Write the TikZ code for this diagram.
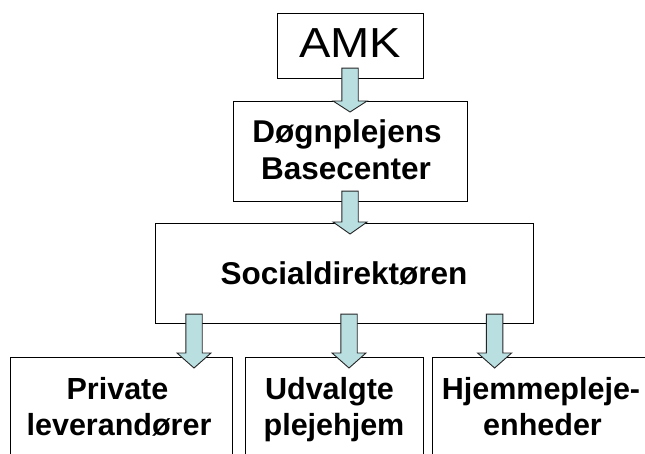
\documentclass[tikz,border=0pt]{standalone}
\usepackage{fontspec}
\setmainfont{Liberation Sans}
\usetikzlibrary{calc}

\definecolor{flowfill}{HTML}{B9DFE1}

\tikzset{
  orgbox/.style={draw=black, line width=1.1pt, fill=white, rectangle, inner sep=0pt},
  headtext/.style={font=\fontsize{42}{48}\selectfont, inner sep=0pt, anchor=base},
  unittext/.style={font=\fontsize{31.5}{37}\selectfont\bfseries, inner sep=0pt, anchor=base},
  leaftext/.style={font=\fontsize{30.5}{36}\selectfont\bfseries, inner sep=0pt, anchor=base},
  flow/.style={draw=black!85, line width=0.9pt, fill=flowfill, line join=miter}
}

% block arrow pointing down: #1 top of shaft, #2 tip, #3 head length
\newcommand{\feedarrow}[3]{%
  \filldraw[flow] ($(#1)+(-8.2,0)$) -- ($(#2)+(-8.2,-#3)$) -- ($(#2)+(-17,-#3)$)
    -- (#2) -- ($(#2)+(17,-#3)$) -- ($(#2)+(8.2,-#3)$) -- ($(#1)+(8.2,0)$) -- cycle;}

\begin{document}
\begin{tikzpicture}[x=1pt, y=-1pt]
  \useasboundingbox (0,0) rectangle (645,454);

  % boxes
  \node[orgbox, minimum width=146pt, minimum height=65pt, anchor=north west] (amk) at (277,13) {};
  \node[orgbox, minimum width=234pt, minimum height=100pt, anchor=north west] (dbc) at (233,101) {};
  \node[orgbox, minimum width=378pt, minimum height=100pt, anchor=north west] (soc) at (155,223) {};
  \node[orgbox, minimum width=222pt, minimum height=110pt, anchor=north west] (pl) at (10,357) {};
  \node[orgbox, minimum width=178pt, minimum height=110pt, anchor=north west] (up) at (245,357) {};
  \node[orgbox, minimum width=220pt, minimum height=110pt, anchor=north west] (hj) at (432,357) {};

  % labels
  \node[headtext] (amkt) at (350,58) {\scalebox{1.12}[1]{AMK}};
  \node[unittext] (dbct1) at (347,143) {Døgnplejens};
  \node[unittext] (dbct2) at (346,180) {Basecenter};
  \node[unittext] (soct) at (344,285) {Socialdirektøren};
  \node[leaftext] (plt1) at (117.5,399) {Private};
  \node[leaftext] (plt2) at (119,435) {leverandører};
  \node[leaftext] (upt1) at (329.5,399) {Udvalgte};
  \node[leaftext] (upt2) at (334,435) {plejehjem};
  \node[leaftext] (hjt1) at (541,399) {Hjemmepleje-};
  \node[leaftext] (hjt2) at (542.5,435) {enheder};

  % arrow anchor points
  \coordinate (a1s) at ($(amk.south)+(-0.5,-11)$);
  \coordinate (a1e) at ($(a1s |- dbc.north)+(0,11)$);
  \coordinate (a2s) at ($(dbc.south)+(-0.5,-11)$);
  \coordinate (a2e) at ($(a2s |- soc.north)+(0,11)$);
  \coordinate (b1s) at ($(soc.south west)+(39,-10)$);
  \coordinate (b1e) at ($(b1s |- pl.north)+(0,11)$);
  \coordinate (b2s) at ($(soc.south west)+(194,-10)$);
  \coordinate (b2e) at ($(b2s |- up.north)+(0,11)$);
  \coordinate (b3s) at ($(soc.south east)+(-39.5,-10)$);
  \coordinate (b3e) at ($(b3s |- hj.north)+(0,11)$);

  % arrows
  \feedarrow{a1s}{a1e}{11}
  \feedarrow{a2s}{a2e}{12}
  \feedarrow{b1s}{b1e}{15}
  \feedarrow{b2s}{b2e}{15}
  \feedarrow{b3s}{b3e}{15}
\end{tikzpicture}
\end{document}
